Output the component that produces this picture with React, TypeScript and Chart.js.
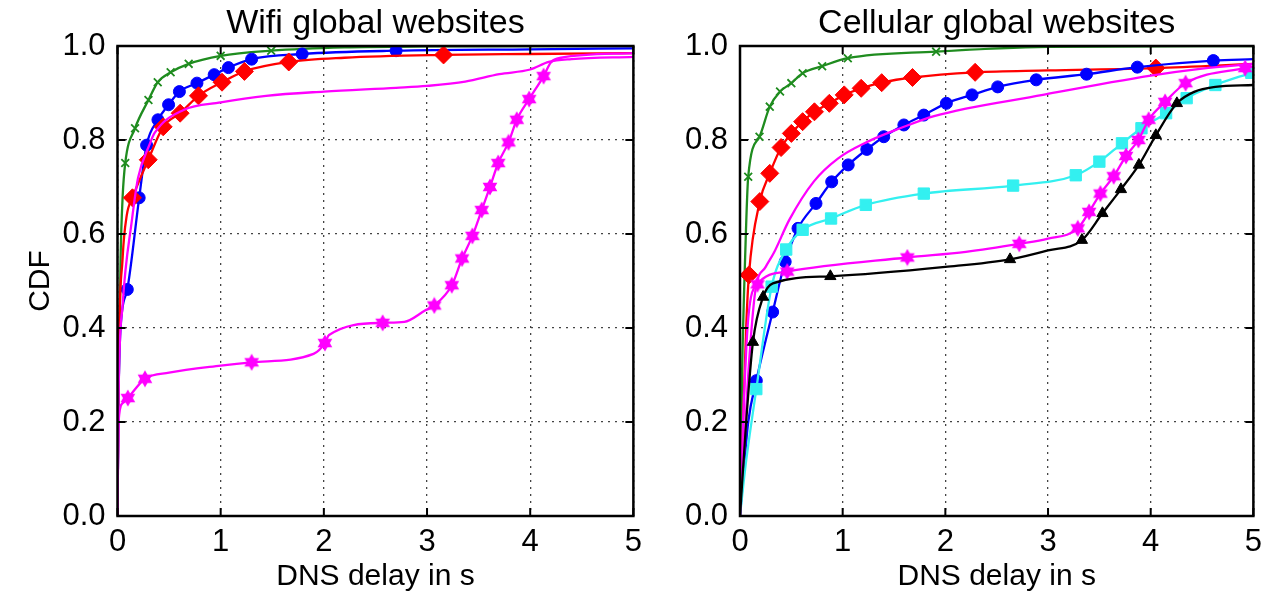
import React, { useEffect, useRef } from 'react';
import { Chart, registerables } from 'chart.js';

Chart.register(...registerables);

// ---------- text ----------
const panelTitles = ['Wifi global websites', 'Cellular global websites'];
const xAxisLabel = 'DNS delay in s';
const yAxisLabel = 'CDF';

// ---------- ticks ----------
const xTicks = [0, 1, 2, 3, 4, 5];
const yTicks = [0, 0.2, 0.4, 0.6, 0.8, 1.0];

// ---------- Wifi panel ----------
const wifiGreenMarks = [[0.075, 0.751], [0.17, 0.825], [0.3, 0.885], [0.39, 0.923], [0.515, 0.944], [0.69, 0.962], [1.0, 0.979], [1.49, 0.99]];
const wifiGreenExtra = [[0, 0], [0.01, 0.25], [0.03, 0.55], [0.05, 0.68], [2.2, 0.997], [3, 0.999], [5, 1.0]];

const wifiBlueMarks = [[0.095, 0.482], [0.21, 0.677], [0.282, 0.789], [0.392, 0.843], [0.495, 0.875], [0.6, 0.903], [0.77, 0.921], [0.937, 0.939], [1.075, 0.954], [1.3, 0.972], [1.79, 0.983], [2.7, 0.99]];
const wifiBlueExtra = [[0, 0], [0.01, 0.25], [0.03, 0.4], [4, 0.993], [5, 0.995]];

const wifiRedMarks = [[0.145, 0.677], [0.298, 0.758], [0.443, 0.828], [0.607, 0.857], [0.785, 0.894], [1.013, 0.923], [1.23, 0.946], [1.66, 0.966], [3.16, 0.981]];
const wifiRedExtra = [[0, 0], [0.01, 0.3], [0.05, 0.55], [0.09, 0.64], [2.2, 0.975], [4, 0.983], [5, 0.985]];

const wifiMagentaLine = [[0, 0], [0.01, 0.25], [0.05, 0.45], [0.14, 0.63], [0.2, 0.72], [0.31, 0.79], [0.36, 0.815], [0.64, 0.864], [1.0, 0.88], [1.44, 0.894], [2.0, 0.903], [2.7, 0.911], [3.0, 0.915], [3.37, 0.924], [3.7, 0.94], [4.0, 0.95], [4.18, 0.966], [4.4, 0.972], [5, 0.977]];

const wifiStarMarks = [[0.1, 0.251], [0.266, 0.292], [1.3, 0.327], [2.01, 0.368], [2.57, 0.411], [3.07, 0.448], [3.24, 0.491], [3.34, 0.548], [3.44, 0.596], [3.53, 0.651], [3.61, 0.7], [3.69, 0.751], [3.79, 0.795], [3.87, 0.843], [3.99, 0.887], [4.13, 0.936]];
const wifiStarExtra = [[0, 0], [0.01, 0.2], [0.05, 0.24], [0.5, 0.305], [1.0, 0.32], [1.9, 0.345], [2.05, 0.385], [2.78, 0.413], [2.98, 0.437], [4.2, 0.965], [4.3, 0.975], [5, 0.985]];

// ---------- Cellular panel ----------
const cellGreenMarks = [[0.08, 0.722], [0.19, 0.807], [0.29, 0.871], [0.39, 0.903], [0.5, 0.921], [0.61, 0.942], [0.8, 0.957], [1.05, 0.974], [1.91, 0.988]];
const cellGreenExtra = [[0, 0], [0.02, 0.3], [0.05, 0.55], [3, 0.998], [5, 1.0]];

const cellRedMarks = [[0.087, 0.513], [0.193, 0.669], [0.29, 0.729], [0.4, 0.784], [0.5, 0.814], [0.61, 0.839], [0.725, 0.86], [0.87, 0.878], [1.015, 0.896], [1.18, 0.91], [1.38, 0.922], [1.68, 0.933], [2.29, 0.944], [4.05, 0.953]];
const cellRedExtra = [[0, 0], [0.03, 0.2], [0.06, 0.4], [3, 0.948], [5, 0.962]];

const cellBlueMarks = [[0.159, 0.288], [0.318, 0.434], [0.44, 0.541], [0.565, 0.612], [0.74, 0.665], [0.893, 0.711], [1.054, 0.747], [1.235, 0.78], [1.4, 0.807], [1.596, 0.832], [1.79, 0.853], [2.01, 0.878], [2.26, 0.896], [2.51, 0.913], [2.885, 0.928], [3.375, 0.94], [3.87, 0.955], [4.61, 0.969]];
const cellBlueExtra = [[0, 0], [0.03, 0.08], [0.08, 0.2], [5, 0.972]];

const cellCyanMarks = [[0.159, 0.27], [0.308, 0.488], [0.45, 0.567], [0.61, 0.609], [0.887, 0.633], [1.225, 0.662], [1.79, 0.686], [2.66, 0.703], [3.27, 0.725], [3.5, 0.754], [3.72, 0.793], [3.91, 0.825], [4.15, 0.857], [4.35, 0.889], [4.63, 0.917], [4.98, 0.943]];
const cellCyanExtra = [[0, 0], [0.05, 0.1]];

const cellMagentaLine = [[0, 0], [0.03, 0.1], [0.08, 0.3], [0.15, 0.48], [0.25, 0.53], [0.33, 0.56], [0.48, 0.63], [0.72, 0.712], [0.95, 0.76], [1.24, 0.796], [1.56, 0.825], [1.89, 0.851], [2.95, 0.896], [4.0, 0.937], [4.5, 0.952], [5, 0.962]];

const cellStarMarks = [[0.17, 0.493], [0.46, 0.52], [1.63, 0.55], [2.72, 0.579], [3.29, 0.612], [3.4, 0.647], [3.51, 0.686], [3.64, 0.723], [3.76, 0.766], [3.88, 0.8], [3.98, 0.843], [4.14, 0.881], [4.34, 0.921], [4.92, 0.953]];
const cellStarExtra = [[0, 0], [0.03, 0.2], [0.08, 0.42], [2.2, 0.562], [3.0, 0.59], [5, 0.956]];

const cellBlackMarks = [[0.126, 0.37], [0.225, 0.466], [0.88, 0.51], [2.63, 0.546], [3.33, 0.587], [3.53, 0.644], [3.71, 0.695], [3.885, 0.747], [4.05, 0.81], [4.255, 0.878]];
const cellBlackExtra = [[0, 0], [0.06, 0.2], [0.32, 0.495], [2.0, 0.53], [3.0, 0.565], [4.43, 0.903], [4.63, 0.913], [5, 0.917]];

// ---------- colours ----------
const GREEN = '#1f8c1f';
const BLUE = '#0000ff';
const RED = '#ff0000';
const MAGENTA = '#ff00ff';
const CYAN = '#33f0f0';
const BLACK = '#000000';

type P = number[];
const toXY = (arr: P[]) => arr.map(([x, y]) => ({ x, y }));
const mergeSorted = (a: P[], b: P[]) => [...a, ...b].sort((p, q) => p[0] - q[0] || p[1] - q[1]);

function makeHexagram(color: string, size: number) {
  const c = document.createElement('canvas');
  c.width = size;
  c.height = size;
  const ctx = c.getContext('2d')!;
  const cx = size / 2, cy = size / 2, r = size / 2 - 0.5;
  ctx.fillStyle = color;
  for (const rot of [-Math.PI / 2, Math.PI / 2]) {
    ctx.beginPath();
    for (let i = 0; i < 3; i++) {
      const a = rot + (i * 2 * Math.PI) / 3;
      const px = cx + r * Math.cos(a);
      const py = cy + r * Math.sin(a);
      if (i === 0) ctx.moveTo(px, py); else ctx.lineTo(px, py);
    }
    ctx.closePath();
    ctx.fill();
  }
  return c;
}

function lineDS(points: P[], color: string) {
  return {
    type: 'line' as const,
    data: toXY(points),
    borderColor: color,
    backgroundColor: color,
    borderWidth: 2.3,
    pointRadius: 0,
    fill: false,
    cubicInterpolationMode: 'monotone' as const,
  };
}

function markDS(points: P[], color: string, style: any, radius: number, filled = true) {
  return {
    type: 'scatter' as const,
    data: toXY(points),
    showLine: false,
    pointStyle: style,
    pointRadius: radius,
    pointHoverRadius: radius,
    pointBackgroundColor: filled ? color : 'transparent',
    pointBorderColor: color,
    pointBorderWidth: filled ? 1 : 1.8,
  };
}

function seriesDS(marks: P[], extra: P[], color: string, style: any, radius: number, filled = true) {
  return [lineDS(mergeSorted(marks, extra), color), markDS(marks, color, style, radius, filled)];
}

const FONT = "'Liberation Sans', Arial, Helvetica, sans-serif";

const framePlugin = {
  id: 'matlabFrame',
  afterDatasetsDraw(chart: any) {
    const { ctx, chartArea: a, scales } = chart;
    ctx.save();
    ctx.strokeStyle = '#000';
    ctx.lineWidth = 2.5;
    ctx.setLineDash([]);
    ctx.strokeRect(a.left, a.top, a.right - a.left, a.bottom - a.top);
    const tl = 8;
    ctx.lineWidth = 2;
    ctx.beginPath();
    for (const v of xTicks) {
      const px = scales.x.getPixelForValue(v);
      ctx.moveTo(px, a.bottom); ctx.lineTo(px, a.bottom - tl);
      ctx.moveTo(px, a.top); ctx.lineTo(px, a.top + tl);
    }
    for (const v of yTicks) {
      const py = scales.y.getPixelForValue(v);
      ctx.moveTo(a.left, py); ctx.lineTo(a.left + tl, py);
      ctx.moveTo(a.right, py); ctx.lineTo(a.right - tl, py);
    }
    ctx.stroke();
    ctx.restore();
  },
  afterDraw(chart: any) {
    const { ctx, chartArea: a } = chart;
    const text = chart.options.plugins.matlabFrame?.title;
    if (!text) return;
    ctx.save();
    ctx.fillStyle = '#000';
    ctx.font = `34px ${FONT}`;
    ctx.textAlign = 'center';
    ctx.textBaseline = 'middle';
    ctx.fillText(text, (a.left + a.right) / 2, 24);
    ctx.restore();
  },
};

function makeOptions(title: string, yWidth: number, rightPad: number, showYTitle: boolean): any {
  return {
    responsive: false,
    animation: false,
    events: [],
    layout: { padding: { left: 0, right: rightPad, top: 46, bottom: 0 } },
    plugins: {
      legend: { display: false },
      tooltip: { enabled: false },
      title: { display: false },
      matlabFrame: { title },
    },
    scales: {
      x: {
        type: 'linear',
        min: 0,
        max: 5,
        afterBuildTicks: (s: any) => { s.ticks = xTicks.map((v) => ({ value: v })); },
        afterFit: (s: any) => { s.height = 80; },
        ticks: {
          autoSkip: false,
          maxRotation: 0,
          padding: 8,
          color: '#000',
          font: { family: FONT, size: 31 },
          callback: (v: number) => String(v),
        },
        grid: { color: '#444', lineWidth: 1.3, drawTicks: false },
        border: { display: false, dash: [2, 5] },
        title: {
          display: true,
          text: xAxisLabel,
          color: '#000',
          font: { family: FONT, size: 30 },
          padding: { top: 0, bottom: 1 },
        },
      },
      y: {
        type: 'linear',
        min: 0,
        max: 1,
        afterBuildTicks: (s: any) => { s.ticks = yTicks.map((v) => ({ value: v })); },
        afterFit: (s: any) => { s.width = yWidth; },
        ticks: {
          autoSkip: false,
          padding: 12,
          color: '#000',
          font: { family: FONT, size: 31 },
          callback: (v: number) => Number(v).toFixed(1),
        },
        grid: { color: '#444', lineWidth: 1.3, drawTicks: false },
        border: { display: false, dash: [2, 5] },
        title: {
          display: showYTitle,
          text: yAxisLabel,
          color: '#000',
          font: { family: FONT, size: 30 },
          padding: { top: 23, bottom: 0 },
        },
      },
    },
  };
}

function Panel({ left, width, build }: { left: number; width: number; build: (c: HTMLCanvasElement) => Chart }) {
  const ref = useRef<HTMLCanvasElement>(null);
  useEffect(() => {
    if (!ref.current) return;
    const chart = build(ref.current);
    return () => chart.destroy();
  }, []);
  return (
    <canvas
      ref={ref}
      width={width}
      height={596}
      style={{ position: 'absolute', left, top: 0, width, height: 596 }}
    />
  );
}

export default function App() {
  const buildWifi = (canvas: HTMLCanvasElement) => {
    const star = makeHexagram(MAGENTA, 18);
    const datasets: any[] = [
      ...seriesDS(wifiStarMarks, wifiStarExtra, MAGENTA, star, 9),
      lineDS(wifiMagentaLine, MAGENTA),
      ...seriesDS(wifiRedMarks, wifiRedExtra, RED, 'rectRot', 9),
      ...seriesDS(wifiBlueMarks, wifiBlueExtra, BLUE, 'circle', 6),
      ...seriesDS(wifiGreenMarks, wifiGreenExtra, GREEN, 'crossRot', 5.5, false),
    ];
    return new Chart(canvas, {
      type: 'line',
      data: { datasets },
      options: makeOptions(panelTitles[0], 117.5, 15, true),
      plugins: [framePlugin],
    } as any);
  };
  const buildCell = (canvas: HTMLCanvasElement) => {
    const star = makeHexagram(MAGENTA, 18);
    const datasets: any[] = [
      ...seriesDS(cellBlackMarks, cellBlackExtra, BLACK, 'triangle', 6.5),
      ...seriesDS(cellStarMarks, cellStarExtra, MAGENTA, star, 9),
      ...seriesDS(cellCyanMarks, cellCyanExtra, CYAN, 'rect', 8),
      lineDS(cellMagentaLine, MAGENTA),
      ...seriesDS(cellBlueMarks, cellBlueExtra, BLUE, 'circle', 6),
      ...seriesDS(cellRedMarks, cellRedExtra, RED, 'rectRot', 9),
      ...seriesDS(cellGreenMarks, cellGreenExtra, GREEN, 'crossRot', 5.5, false),
    ];
    return new Chart(canvas, {
      type: 'line',
      data: { datasets },
      options: makeOptions(panelTitles[1], 90, 13, false),
      plugins: [framePlugin],
    } as any);
  };
  return (
    <div style={{ position: 'fixed', left: 0, top: 0, width: 1270, height: 596, background: '#fff' }}>
      <Panel left={0} width={650} build={buildWifi} />
      <Panel left={650} width={620} build={buildCell} />
    </div>
  );
}
